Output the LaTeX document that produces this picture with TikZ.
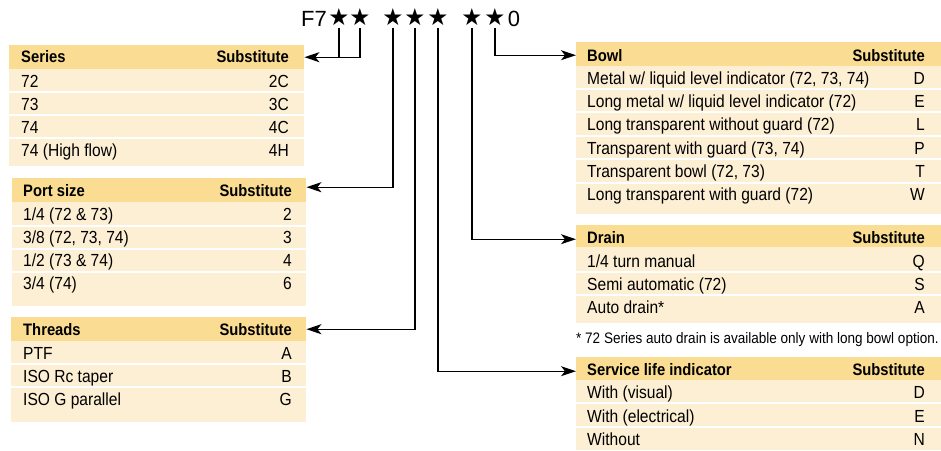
\documentclass[tikz,border=0pt]{standalone}
\usepackage{fontspec}
\setmainfont{Liberation Sans}[FakeStretch=0.89]
\newfontfamily\codefont{Liberation Sans}
\newfontfamily\starfont{DejaVu Sans}
\usetikzlibrary{arrows.meta}
\definecolor{hdr}{RGB}{250,221,146}
\definecolor{bdy}{RGB}{253,239,212}
\tikzset{
  hdrbox/.style={fill=hdr, draw=none, inner sep=0pt, anchor=north west},
  htext/.style={font=\fontsize{16.6}{18}\selectfont\bfseries, inner sep=0pt, text height=11.9pt, text depth=0pt},
  ctext/.style={font=\fontsize{17.5}{19}\selectfont, inner sep=0pt, text height=12.5pt, text depth=0pt},
  ftext/.style={font=\fontsize{15.2}{17}\selectfont, inner sep=0pt, text height=10.9pt, text depth=0pt},
  sepline/.style={white, line width=2pt},
  conn/.style={line width=1.3pt, black},
  arr/.style={conn, -{Stealth[length=15pt, width=10pt, inset=4pt]}},
  starch/.style={font=\starfont\fontsize{23.5}{25}\selectfont, inner xsep=0pt, inner ysep=1.5pt},
  codech/.style={font=\codefont\fontsize{22}{24}\selectfont, inner sep=0pt},
}
\begin{document}
\begin{tikzpicture}[x=1pt, y=-1pt]
\useasboundingbox (0,0) rectangle (941,450);

% ---------- code ----------
\node[codech, anchor=east] (f7) at (327,19) {F7};
\node[starch] (s1) at (339,17.5) {★};
\node[starch] (s2) at (360,17.5) {★};
\node[starch] (s3) at (393,17.5) {★};
\node[starch] (s4) at (415,17.5) {★};
\node[starch] (s5) at (438,17.5) {★};
\node[starch] (s6) at (472,17.5) {★};
\node[starch] (s7) at (495,17.5) {★};
\node[codech] (zero) at (514,19) {0};

% ---------- Series ----------
\node[hdrbox, minimum width=295pt, minimum height=24pt] (series) at (9,45) {};
\fill[bdy] (9,69) rectangle (304,166);
\foreach \y in {92,115,138} \draw[sepline] (9,\y) -- (304,\y);
\node[htext, anchor=west] (series-h) at (21,57) {Series};
\node[htext, anchor=east] (series-s) at (289,57) {Substitute};
\foreach \t/\c [count=\i] in {72/2C, 73/3C, 74/4C, 74 (High flow)/4H} {
  \node[ctext, anchor=west] (ser-l\i) at (21,{81+23*(\i-1)}) {\t};
  \node[ctext, anchor=east] (ser-r\i) at (289,{81+23*(\i-1)}) {\c};
}

% ---------- Port size ----------
\node[hdrbox, minimum width=294pt, minimum height=24pt] (port) at (12,178) {};
\fill[bdy] (12,202) rectangle (306,306);
\foreach \y in {226,249,272} \draw[sepline] (12,\y) -- (306,\y);
\node[htext, anchor=west] (port-h) at (23,191) {Port size};
\node[htext, anchor=east] (port-s) at (292,191) {Substitute};
\foreach \t/\c [count=\i] in {{1/4 (72 \& 73)}/2, {3/8 (72, 73, 74)}/3, {1/2 (73 \& 74)}/4, {3/4 (74)}/6} {
  \node[ctext, anchor=west] (port-l\i) at (23,{214+23*(\i-1)}) {\t};
  \node[ctext, anchor=east] (port-r\i) at (292,{214+23*(\i-1)}) {\c};
}

% ---------- Threads ----------
\node[hdrbox, minimum width=295pt, minimum height=24pt] (threads) at (11,317) {};
\fill[bdy] (11,341) rectangle (306,422);
\foreach \y in {364,387} \draw[sepline] (11,\y) -- (306,\y);
\node[htext, anchor=west] (thr-h) at (23,329.5) {Threads};
\node[htext, anchor=east] (thr-s) at (292,329.5) {Substitute};
\foreach \t/\c [count=\i] in {PTF/A, ISO Rc taper/B, ISO G parallel/G} {
  \node[ctext, anchor=west] (thr-l\i) at (23,{353+23*(\i-1)}) {\t};
  \node[ctext, anchor=east] (thr-r\i) at (292,{353+23*(\i-1)}) {\c};
}

% ---------- Bowl ----------
\node[hdrbox, minimum width=365pt, minimum height=24pt] (bowl) at (576,42) {};
\fill[bdy] (576,66) rectangle (941,214);
\foreach \y in {89,112,136,159,183} \draw[sepline] (576,\y) -- (941,\y);
\node[htext, anchor=west] (bowl-h) at (587,55.5) {Bowl};
\node[htext, anchor=east] (bowl-s) at (925,55.5) {Substitute};
\foreach \t/\c [count=\i] in {{Metal w/ liquid level indicator (72, 73, 74)}/D,
  {Long metal w/ liquid level indicator (72)}/E,
  {Long transparent without guard (72)}/L,
  {Transparent with guard (73, 74)}/P,
  {Transparent bowl (72, 73)}/T,
  {Long transparent with guard (72)}/W} {
  \node[ctext, anchor=west] (bowl-l\i) at (587,{78+23.3*(\i-1)}) {\t};
  \node[ctext, anchor=east] (bowl-r\i) at (925,{78+23.3*(\i-1)}) {\c};
}

% ---------- Drain ----------
\node[hdrbox, minimum width=365pt, minimum height=22pt] (drain) at (576,225) {};
\fill[bdy] (576,247) rectangle (941,323);
\foreach \y in {272,295} \draw[sepline] (576,\y) -- (941,\y);
\node[htext, anchor=west] (drain-h) at (587,237.5) {Drain};
\node[htext, anchor=east] (drain-s) at (925,237.5) {Substitute};
\foreach \t/\c [count=\i] in {{1/4 turn manual}/Q, {Semi automatic (72)}/S, {Auto drain*}/A} {
  \node[ctext, anchor=west] (drain-l\i) at (587,{261+23*(\i-1)}) {\t};
  \node[ctext, anchor=east] (drain-r\i) at (925,{261+23*(\i-1)}) {\c};
}
\node[ftext, anchor=west] (note) at (576,338) {* 72 Series auto drain is available only with long bowl option.};

% ---------- Service life indicator ----------
\node[hdrbox, minimum width=365pt, minimum height=23pt] (service) at (576,357) {};
\fill[bdy] (576,380) rectangle (941,450);
\foreach \y in {403,427} \draw[sepline] (576,\y) -- (941,\y);
\node[htext, anchor=west] (svc-h) at (587,370) {Service life indicator};
\node[htext, anchor=east] (svc-s) at (925,370) {Substitute};
\foreach \t/\c [count=\i] in {With (visual)/D, With (electrical)/E, Without/N} {
  \node[ctext, anchor=west] (svc-l\i) at (587,{392.5+23.3*(\i-1)}) {\t};
  \node[ctext, anchor=east] (svc-r\i) at (925,{392.5+23.3*(\i-1)}) {\c};
}

% ---------- connectors ----------
\draw[conn] (s1.south) -- (s1.south |- series.east);
\draw[arr] (s2.south) |- (series.east);
\draw[arr] (s3.south) |- ([yshift=3pt]port.east);
\draw[arr] (s4.south) |- (threads.east);
\draw[arr] (s5.south) |- ([yshift=-2.5pt]service.west);
\draw[arr] (s6.south) |- ([yshift=-3pt]drain.west);
\draw[arr] (s7.south) |- ([yshift=-1pt]bowl.west);
\end{tikzpicture}
\end{document}
